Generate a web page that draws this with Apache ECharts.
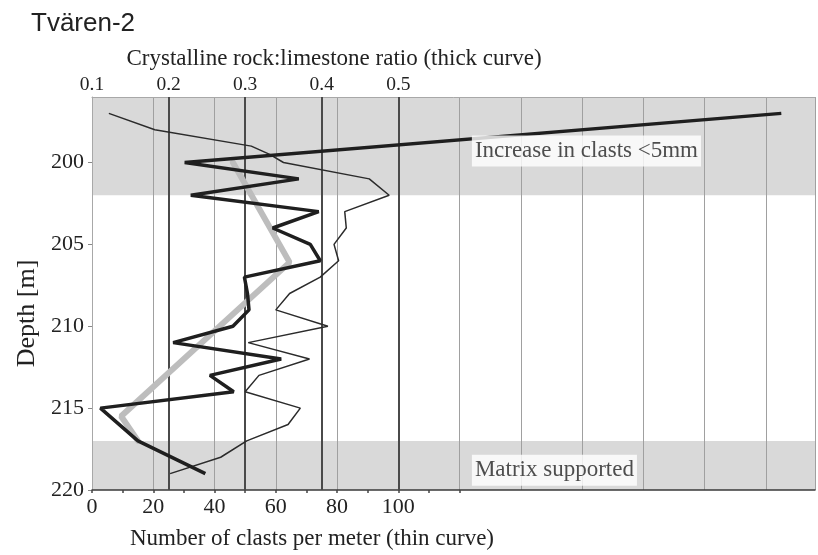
<!DOCTYPE html>
<html>
<head>
<meta charset="utf-8">
<script src="https://cdn.jsdelivr.net/npm/echarts@6/dist/echarts.min.js"></script>
<style>
  html, body { margin: 0; padding: 0; background: #ffffff; }
  #chart { width: 818px; height: 555px; }
</style>
</head>
<body>
<div id="chart"></div>
<script>
// Tvären-2 core: clast counts and crystalline/limestone ratio against depth

// Number of clasts per meter (thin curve)
const thinDepth = [197, 198, 199, 199.5, 200, 201, 202, 203, 204, 205, 206, 207, 208, 209, 210, 211, 212, 213, 214, 215, 216, 217, 218, 219];
const thinCount = [5.5, 20.5, 52, 58, 62.5, 90.5, 97, 82.5, 83, 79, 80.5, 74.5, 64.5, 60, 77, 51, 71, 54.5, 50, 68, 64, 50.5, 42, 25.5];

// Crystalline rock:limestone ratio (thick curve)
const thickDepth = [197, 200, 201, 202, 203, 204, 205, 206, 207, 208, 209, 210, 211, 212, 213, 214, 215, 217, 219];
const thickRatio = [1.0, 0.221, 0.370, 0.229, 0.396, 0.336, 0.385, 0.398, 0.299, 0.303, 0.305, 0.284, 0.206, 0.347, 0.254, 0.285, 0.111, 0.160, 0.248];

// Smoothed ratio trend (light grey curve)
const trendDepth = [200, 206.1, 215.5, 217];
const trendRatio = [0.284, 0.358, 0.138, 0.160];

// Axis ticks and reference values
const depthTicks = [200, 205, 210, 215, 220];
const countMinorTicks = [0, 10, 20, 30, 40, 50, 60, 70, 80, 90, 100, 110, 120];
const countLabelMax = 100;
const ratioLabelMax = 0.5;
const ratioRefLines = [0.2, 0.3, 0.4, 0.5];

// Shaded depth intervals and their notes
const bandFrom = [196, 217];
const bandTo = [202, 220];
const noteText = ['Increase in clasts <5mm', 'Matrix supported'];
const noteDepth = [199.3, 218.8];
const noteCount = [124, 124];

const SERIF = '"Liberation Serif", "Times New Roman", serif';
const TEXT = '#222222';

const countMax = 236;
// top axis is linear in count: ratio = 0.1 + count / 250
const ratioMin = 0.1;
const ratioMax = ratioMin + countMax / 250;

const chart = echarts.init(document.getElementById('chart'), null, { renderer: 'canvas' });

chart.setOption({
  animation: false,
  backgroundColor: '#ffffff',
  title: {
    text: 'Tvären-2',
    left: 31,
    top: 11,
    padding: 0,
    textStyle: { fontFamily: '"Liberation Sans", Arial, sans-serif', fontSize: 26, fontWeight: 'normal', color: TEXT }
  },
  grid: { left: 92, top: 97, right: 0, bottom: 61, containLabel: false },
  xAxis: [
    {
      type: 'value',
      position: 'bottom',
      min: 0,
      max: countMax,
      interval: 20,
      name: 'Number of clasts per meter (thin curve)',
      nameLocation: 'middle',
      nameGap: 37,
      nameTextStyle: { fontFamily: SERIF, fontSize: 23, color: TEXT, padding: [0, 283, 0, 0] },
      axisLine: { show: true, lineStyle: { color: '#3a3a3a', width: 1.5 } },
      axisTick: { show: false },
      axisLabel: {
        fontFamily: SERIF, fontSize: 22, color: TEXT, margin: 6,
        formatter: v => (v <= countLabelMax ? String(v) : '')
      },
      splitLine: { show: true, lineStyle: { color: '#a0a0a0', width: 1 } }
    },
    {
      type: 'value',
      position: 'top',
      min: ratioMin,
      max: ratioMax,
      interval: 0.1,
      name: 'Crystalline rock:limestone ratio (thick curve)',
      nameLocation: 'middle',
      nameGap: 22,
      nameTextStyle: { fontFamily: SERIF, fontSize: 23, color: TEXT, padding: [0, 239, 0, 0] },
      axisLine: { show: true, lineStyle: { color: '#a8a8a8', width: 1 } },
      axisTick: { show: false },
      axisLabel: {
        fontFamily: SERIF, fontSize: 19.5, color: TEXT, margin: 2,
        formatter: v => (v <= ratioLabelMax + 1e-6 ? v.toFixed(1) : '')
      },
      splitLine: { show: false }
    },
    {
      // short ticks every 10 clasts along the lower edge
      type: 'value',
      position: 'bottom',
      min: 0,
      max: countMax,
      axisLine: { show: false },
      axisTick: { show: true, customValues: countMinorTicks, length: 3, lineStyle: { color: '#444444', width: 1.5 } },
      axisLabel: { show: false },
      splitLine: { show: false }
    }
  ],
  yAxis: {
    type: 'value',
    inverse: true,
    min: 196,
    max: 220,
    name: 'Depth [m]',
    nameLocation: 'middle',
    nameGap: 52,
    nameTextStyle: { fontFamily: SERIF, fontSize: 26, color: TEXT, padding: [0, 40, 0, 0] },
    axisLine: { show: true, lineStyle: { color: '#a8a8a8', width: 1 } },
    axisTick: { show: true, customValues: depthTicks, length: 4, lineStyle: { color: '#888888' } },
    axisLabel: { customValues: depthTicks, fontFamily: SERIF, fontSize: 22, color: TEXT, margin: 8 },
    splitLine: { show: false }
  },
  series: [
    {
      name: 'Shaded intervals',
      type: 'line',
      xAxisIndex: 0,
      data: [],
      silent: true,
      markArea: {
        silent: true,
        z: -1,
        itemStyle: { color: '#d9d9d9' },
        data: bandFrom.map((d, i) => [{ yAxis: d }, { yAxis: bandTo[i] }])
      }
    },
    {
      name: 'Ratio trend',
      type: 'line',
      xAxisIndex: 1,
      z: 2,
      symbol: 'none',
      silent: true,
      lineStyle: { color: '#bdbdbd', width: 6, cap: 'round' },
      data: trendRatio.map((r, i) => [r, trendDepth[i]]),
      markLine: {
        silent: true,
        z: 1,
        symbol: ['none', 'none'],
        label: { show: false },
        lineStyle: { color: '#4a4a4a', width: 2, type: 'solid' },
        data: ratioRefLines.map(v => ({ xAxis: v }))
      }
    },
    {
      name: 'Clasts per meter',
      type: 'line',
      xAxisIndex: 0,
      z: 3,
      symbol: 'none',
      silent: true,
      lineStyle: { color: '#2b2b2b', width: 1.5 },
      data: thinCount.map((c, i) => [c, thinDepth[i]])
    },
    {
      name: 'Crystalline:limestone ratio',
      type: 'line',
      xAxisIndex: 1,
      z: 4,
      symbol: 'none',
      silent: true,
      lineStyle: { color: '#1f1f1f', width: 3.5 },
      data: thickRatio.map((r, i) => [r, thickDepth[i]])
    },
    {
      name: 'Notes',
      type: 'scatter',
      xAxisIndex: 0,
      z: 5,
      symbolSize: 0,
      silent: true,
      data: noteText.map((t, i) => ({ name: t, value: [noteCount[i], noteDepth[i]] })),
      label: {
        show: true,
        position: 'right',
        distance: 0,
        formatter: p => p.name,
        fontFamily: SERIF,
        fontSize: 23,
        lineHeight: 24,
        color: TEXT,
        backgroundColor: '#ffffff',
        padding: [4, 3, 3, 3]
      }
    }
  ]
});
</script>
</body>
</html>
